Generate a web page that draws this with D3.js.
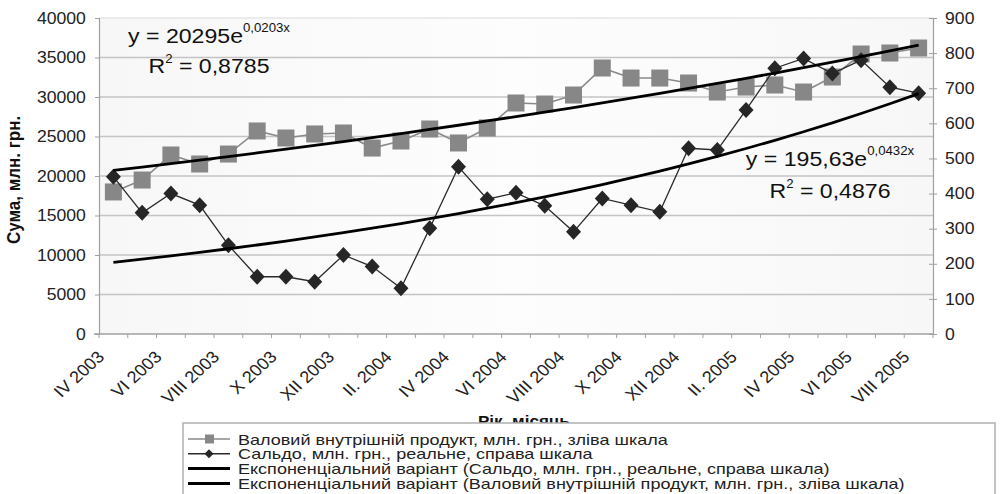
<!DOCTYPE html>
<html><head><meta charset="utf-8">
<script src="https://cdn.jsdelivr.net/npm/d3@7/dist/d3.min.js"></script>
<style>
html,body{margin:0;padding:0;background:#fff;}
svg{display:block;font-family:"Liberation Sans",Arial,sans-serif;}
</style></head>
<body>
<svg id="c" width="1002" height="494"></svg>
<script>
const categories = ["IV 2003","V 2003","VI 2003","VII 2003","VIII 2003","IX 2003","X 2003","XI 2003","XII 2003",
  "I. 2004","II. 2004","III 2004","IV 2004","V 2004","VI 2004","VII 2004","VIII 2004","IX 2004","X 2004","XI 2004","XII 2004",
  "I. 2005","II. 2005","III 2005","IV 2005","V 2005","VI 2005","VII 2005","VIII 2005"];
const gdp = [17980,19490,22660,21520,22780,25700,24810,25320,25440,23540,24430,25950,24180,26080,29240,29110,30250,33670,32400,32400,31770,30630,31260,31520,30630,32530,35440,35570,36200];
const saldo = [448,345,400,367,253,163,163,149,225,192,130,301,476,384,402,365,291,386,367,348,529,524,638,757,785,742,780,703,686];
const leftTicks = [0,5000,10000,15000,20000,25000,30000,35000,40000];
const rightTicks = [0,100,200,300,400,500,600,700,800,900];
const gdpTrend = [20295, 0.0203];     // y = a·e^(b·x), from the chart label
const saldoTrend = [195.63, 0.0432];
const gdpTrendLabel = ["y = 20295e", "0,0203x", "R", "2", " = 0,8785"];
const saldoTrendLabel = ["y = 195,63e", "0,0432x", "R", "2", " = 0,4876"];
const legendLabels = [
  "Валовий внутрішній продукт, млн. грн., зліва шкала",
  "Сальдо, млн. грн., реальне, справа шкала",
  "Експоненціальний варіант (Сальдо, млн. грн., реальне, справа шкала)",
  "Експоненціальний варіант (Валовий внутрішній продукт, млн. грн., зліва шкала)"
];

const SX = 1.1;
const L = 99, R = 933, T = 18, B = 334;
const svg = d3.select("#c");

const x = d3.scaleBand().domain(categories).range([L, R]);
const cx = c => x(c) + x.bandwidth()/2;
const yL = d3.scaleLinear().domain([0,40000]).range([B,T]);
const yR = d3.scaleLinear().domain([0,900]).range([B,T]);

function tr(px, py, rot, sx){ return `translate(${px},${py}) scale(${sx||SX},1)` + (rot ? ` rotate(${rot})` : ""); }

// background
const defs = svg.append("defs");
const grad = defs.append("linearGradient").attr("id","bg").attr("x1","0").attr("x2","1").attr("y1","0").attr("y2","0");
grad.append("stop").attr("offset","0").attr("stop-color","#f7f7f7");
grad.append("stop").attr("offset","0.5").attr("stop-color","#fdfdfd");
grad.append("stop").attr("offset","1").attr("stop-color","#f7f7f7");
svg.append("rect").attr("x",L).attr("y",T).attr("width",R-L).attr("height",B-T).attr("fill","url(#bg)");

// gridlines
svg.append("g").selectAll("line").data(leftTicks.filter(d=>d>0)).join("line")
  .attr("x1",L).attr("x2",R).attr("y1",d=>yL(d)).attr("y2",d=>yL(d))
  .attr("stroke",d=>d===40000?"#e6e6e6":"#c4c4c4").attr("stroke-width",1.5);

// left axis
const gl = svg.append("g").attr("transform",`translate(${L},0)`)
  .call(d3.axisLeft(yL).tickValues(leftTicks).tickSize(4).tickPadding(8).tickFormat(d3.format("d")));
gl.select(".domain").attr("stroke","#a0a0a0").attr("stroke-width",1.2);
gl.selectAll(".tick line").attr("stroke","#a0a0a0");
gl.selectAll(".tick text").attr("font-size",16).attr("fill","#222").attr("font-family",null)
  .attr("transform",`scale(${SX},1)`);

// right axis
const gr = svg.append("g").attr("transform",`translate(${R},0)`)
  .call(d3.axisRight(yR).tickValues(rightTicks).tickSize(4).tickPadding(7));
gr.select(".domain").attr("stroke","#a0a0a0").attr("stroke-width",1.2);
gr.selectAll(".tick line").attr("stroke","#a0a0a0").attr("x1",-4);
gr.selectAll(".tick text").attr("font-size",16).attr("fill","#222").attr("font-family",null)
  .attr("transform",`scale(${SX},1)`);

// bottom axis
svg.append("line").attr("x1",L-5).attr("x2",R).attr("y1",B).attr("y2",B).attr("stroke","#a0a0a0").attr("stroke-width",1.5);
const bounds = categories.map(c=>x(c)).concat([x.range()[1]]);
svg.append("g").selectAll("line").data(bounds).join("line")
  .attr("x1",d=>d).attr("x2",d=>d).attr("y1",B).attr("y2",B+4).attr("stroke","#a0a0a0");
svg.append("g").selectAll("text").data(categories.filter((c,i)=>i%2===0)).join("text")
  .attr("transform",c=>tr(cx(c)-8, B+24, -45))
  .attr("text-anchor","end").attr("font-size",16.5).attr("fill","#222").text(c=>c);

// axis titles
svg.append("text").attr("transform",tr(20,244,-90)).attr("text-anchor","start")
  .attr("font-size",17).attr("font-weight","bold").attr("fill","#111").text("Сума, млн. грн.");
svg.append("text").attr("transform",tr(478,426)).attr("text-anchor","start")
  .attr("font-size",15.5).attr("font-weight","bold").attr("fill","#111").text("Рік, місяць");

// GDP series (left scale)
const lineL = d3.line().x((d,i)=>cx(categories[i])).y(d=>yL(d));
svg.append("path").attr("d",lineL(gdp)).attr("fill","none").attr("stroke","#8a8a8a").attr("stroke-width",1.6);
svg.append("g").selectAll("rect").data(gdp).join("rect")
  .attr("x",(d,i)=>cx(categories[i])-8.5).attr("y",d=>yL(d)-8.5).attr("width",17).attr("height",17)
  .attr("fill","#878787");

// Saldo series (right scale)
const lineR = d3.line().x((d,i)=>cx(categories[i])).y(d=>yR(d));
svg.append("path").attr("d",lineR(saldo)).attr("fill","none").attr("stroke","#2a2a2a").attr("stroke-width",1.3);
svg.append("g").selectAll("path").data(saldo).join("path")
  .attr("transform",(d,i)=>`translate(${cx(categories[i])},${yR(d)})`)
  .attr("d","M0,-8L7.5,0L0,8L-7.5,0Z").attr("fill","#262626");

// trend lines
const idx = d3.range(1, categories.length+1);
const trendL = d3.line().x(k=>cx(categories[k-1])).y(k=>yL(gdpTrend[0]*Math.exp(gdpTrend[1]*k)));
const trendR = d3.line().x(k=>cx(categories[k-1])).y(k=>yR(saldoTrend[0]*Math.exp(saldoTrend[1]*k)));
svg.append("path").attr("d",trendR(idx)).attr("fill","none").attr("stroke","#000").attr("stroke-width",2.8);
svg.append("path").attr("d",trendL(idx)).attr("fill","none").attr("stroke","#000").attr("stroke-width",2.8);

// trend equations
function eq(lbl, xc, y1, y2){
  const t1 = svg.append("text").attr("transform",tr(xc,y1)).attr("text-anchor","middle").attr("font-size",21).attr("fill","#111");
  t1.append("tspan").text(lbl[0]);
  t1.append("tspan").attr("font-size",12).attr("dy",-11).text(lbl[1]);
  const t2 = svg.append("text").attr("transform",tr(xc,y2)).attr("text-anchor","middle").attr("font-size",21).attr("fill","#111");
  t2.append("tspan").text(lbl[2]);
  t2.append("tspan").attr("font-size",12).attr("dy",-10).text(lbl[3]);
  t2.append("tspan").attr("dy",10).text(lbl[4]);
}
eq(gdpTrendLabel, 209, 43, 73);
eq(saldoTrendLabel, 830, 166, 198);

// legend
svg.append("rect").attr("x",183).attr("y",423).attr("width",812).attr("height",90)
  .attr("fill","#fff").attr("stroke","#b0b0b0").attr("stroke-width",1.5);
const rows = [444.5, 459.3, 474.1, 488.9];
const lg = svg.append("g");
rows.forEach((by,i)=>{
  const ly = by - 5.5;
  if (i===0){
    lg.append("line").attr("x1",188).attr("x2",230).attr("y1",ly).attr("y2",ly).attr("stroke","#8a8a8a").attr("stroke-width",1.6);
    lg.append("rect").attr("x",205).attr("y",ly-4.5).attr("width",9).attr("height",9).attr("fill","#878787");
  } else if (i===1){
    lg.append("line").attr("x1",188).attr("x2",230).attr("y1",ly).attr("y2",ly).attr("stroke","#2a2a2a").attr("stroke-width",1.5);
    lg.append("path").attr("transform",`translate(209,${ly})`).attr("d","M0,-4.5L4.5,0L0,4.5L-4.5,0Z").attr("fill","#262626");
  } else {
    lg.append("line").attr("x1",188).attr("x2",230).attr("y1",ly).attr("y2",ly).attr("stroke","#000").attr("stroke-width",3);
  }
  lg.append("text").attr("transform",tr(238,by,0,1.27)).attr("font-size",14.2).attr("fill","#222").text(legendLabels[i]);
});
</script>
</body></html>
